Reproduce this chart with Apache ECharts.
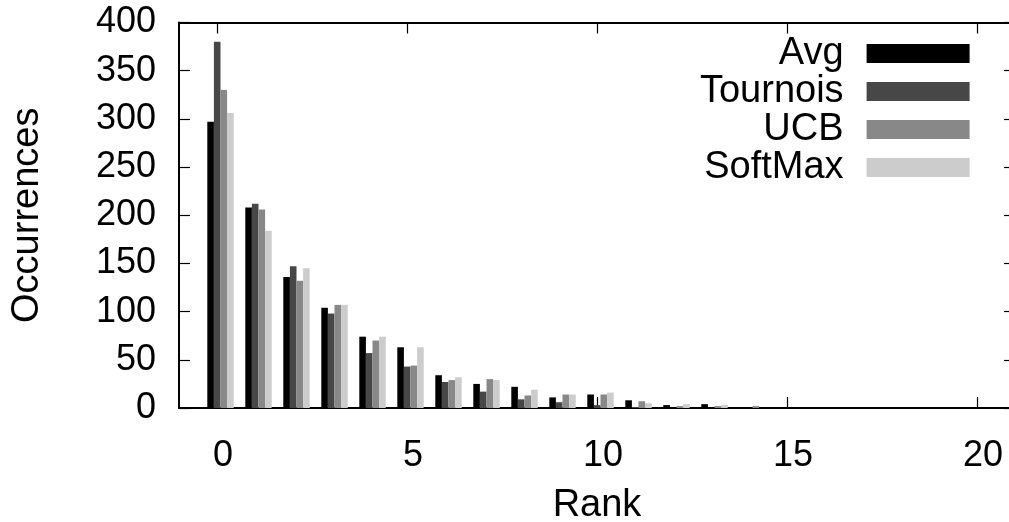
<!DOCTYPE html>
<html>
<head>
<meta charset="utf-8">
<script src="https://cdn.jsdelivr.net/npm/echarts@6/dist/echarts.min.js"></script>
<style>
  html, body { margin: 0; padding: 0; background: #fff; }
  #chart { width: 1009px; height: 522px; }
</style>
</head>
<body>
<div id="chart"></div>
<script>
// ---- data ----
const ranks    = [0, 1, 2, 3, 4, 5, 6, 7, 8, 9, 10, 11, 12, 13, 14, 15, 16, 17, 18, 19, 20];
const avg      = [297, 208, 136, 104, 74, 63, 34, 25, 22, 11, 14, 8, 3, 4, 0, 0, 0, 0, 0, 0, 0];
const tournois = [380, 212, 147, 98, 57, 43, 27, 17, 9, 6, 3, 1, 0, 0, 0, 0, 0, 0, 0, 0, 0];
const ucb      = [330, 206, 132, 107, 70, 44, 29, 30, 13, 14, 14, 7, 2, 2, 2, 0, 0, 0, 0, 0, 0];
const softmax  = [306, 184, 145, 107, 74, 63, 32, 29, 19, 14, 16, 5, 4, 3, 0, 0, 0, 0, 0, 0, 0];
const seriesNames = ['Avg', 'Tournois', 'UCB', 'SoftMax'];
const xTicks = [0, 5, 10, 15, 20];

const FONT = "'Liberation Sans', Arial, Helvetica, sans-serif";
const colors = ['#000000', '#474747', '#888888', '#cccccc'];
const values = [avg, tournois, ucb, softmax];

const chart = echarts.init(document.getElementById('chart'), null, { renderer: 'canvas' });

const barSeries = seriesNames.map((name, i) => ({
  name: name,
  type: 'bar',
  xAxisIndex: 0,
  yAxisIndex: 0,
  barWidth: 6.6,
  barGap: '0%',
  itemStyle: { color: colors[i] },
  emphasis: { disabled: true },
  data: ranks.map((r, k) => [r, values[i][k]])
}));

// invisible spacer so each cluster sits slightly right of its tick, as in the reference
const spacer = {
  name: '_spacer',
  type: 'bar',
  xAxisIndex: 0,
  yAxisIndex: 0,
  barWidth: 7,
  barGap: '0%',
  data: []
};

const tickStyle = { show: true, inside: true, length: 11, lineStyle: { color: '#000', width: 1.2 } };
const lineStyle = { color: '#000', width: 2 };

chart.setOption({
  animation: false,
  backgroundColor: '#fff',
  textStyle: { fontFamily: FONT },
  grid: { left: 179, right: -6, top: 22.5, bottom: 114, containLabel: false, outerBoundsMode: 'none' },
  legend: {
    data: seriesNames,
    orient: 'vertical',
    align: 'right',
    right: 39.4,
    top: 34.4,
    padding: 0,
    itemGap: 0,
    itemWidth: 103,
    itemHeight: 19,
    icon: 'rect',
    selectedMode: false,
    textStyle: { fontFamily: FONT, fontSize: 38, color: '#000', lineHeight: 38, padding: [0, 18, 0, 0] }
  },
  xAxis: [
    {
      type: 'value',
      position: 'bottom',
      min: -1,
      max: 21,
      name: 'Rank',
      nameLocation: 'middle',
      nameGap: 79,
      nameTextStyle: { fontFamily: FONT, fontSize: 38, color: '#000' },
      axisLine: { show: true, onZero: false, lineStyle: lineStyle },
      axisTick: Object.assign({}, tickStyle, { customValues: xTicks }),
      axisLabel: { show: true, customValues: xTicks, fontFamily: FONT, fontSize: 36, color: '#000', margin: 30, padding: [0, 0, 0, 12] },
      splitLine: { show: false }
    },
    {
      type: 'value',
      position: 'top',
      min: -1,
      max: 21,
      axisLine: { show: true, onZero: false, lineStyle: lineStyle },
      axisTick: Object.assign({}, tickStyle, { customValues: xTicks }),
      axisLabel: { show: false, customValues: xTicks },
      splitLine: { show: false }
    }
  ],
  yAxis: [
    {
      type: 'value',
      position: 'left',
      min: 0,
      max: 400,
      interval: 50,
      name: 'Occurrences',
      nameLocation: 'middle',
      nameGap: 132,
      nameTextStyle: { fontFamily: FONT, fontSize: 38, color: '#000' },
      axisLine: { show: true, onZero: false, lineStyle: lineStyle },
      axisTick: tickStyle,
      axisLabel: { fontFamily: FONT, fontSize: 36, color: '#000', margin: 23 },
      splitLine: { show: false }
    },
    {
      type: 'value',
      position: 'right',
      min: 0,
      max: 400,
      interval: 50,
      axisLine: { show: true, onZero: false, lineStyle: lineStyle },
      axisTick: tickStyle,
      axisLabel: { show: false },
      splitLine: { show: false }
    }
  ],
  series: [spacer].concat(barSeries)
});
</script>
</body>
</html>
